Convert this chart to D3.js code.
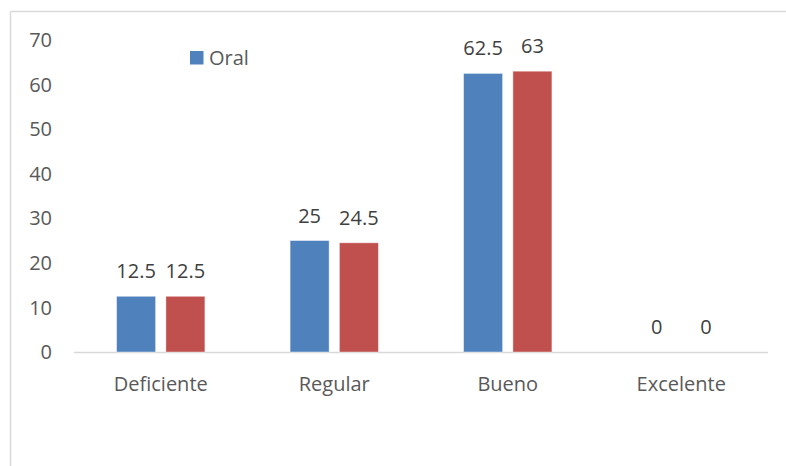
<!DOCTYPE html>
<html>
<head>
<meta charset="utf-8">
<script src="https://cdn.jsdelivr.net/npm/d3@7/dist/d3.min.js"></script>
<style>
  html, body { margin: 0; padding: 0; background: #fff; }
  svg { display: block; }
  text { font-family: "Open Sans", "Noto Sans", sans-serif; fill: #595959; }
</style>
</head>
<body>
<svg id="chart" width="786" height="466"></svg>
<script>
const categories = ["Deficiente", "Regular", "Bueno", "Excelente"];
const seriesNames = ["Oral", "Escrita"];
const seriesOral = [12.5, 25, 62.5, 0];
const seriesSecond = [12.5, 24.5, 63, 0];
const yTicks = [0, 10, 20, 30, 40, 50, 60, 70];
const legendNames = ["Oral"];
const colors = ["#4F81BD", "#C0504D"];

const svg = d3.select("#chart");

// chart border (top and left visible)
svg.append("line").attr("x1", 10.5).attr("x2", 786).attr("y1", 11.5).attr("y2", 11.5)
  .attr("stroke", "#d9d9d9").attr("stroke-width", 1.5);
svg.append("line").attr("x1", 10.5).attr("x2", 10.5).attr("y1", 11.5).attr("y2", 466)
  .attr("stroke", "#d9d9d9").attr("stroke-width", 1.5);

const plot = { left: 74, right: 768, top: 40, bottom: 352 };

const x0 = d3.scaleBand().domain(categories).range([plot.left, plot.right]);
const y = d3.scaleLinear().domain([0, 70]).range([plot.bottom, plot.top]);

const barW = 39, gap = 10.3;
const groupW = 2 * barW + gap;
const inner = d3.scaleOrdinal().domain(seriesNames).range([0, barW + gap]);

// y tick labels
svg.append("g").selectAll("text").data(yTicks).join("text")
  .attr("x", 52).attr("y", d => y(d)).attr("dy", "0.36em")
  .attr("text-anchor", "end").attr("font-size", 20).text(d => d);

// baseline axis
svg.append("line").attr("x1", plot.left).attr("x2", plot.right)
  .attr("y1", y(0) + 0.5).attr("y2", y(0) + 0.5)
  .attr("stroke", "#d9d9d9").attr("stroke-width", 1.5);

// category labels
svg.append("g").selectAll("text").data(categories).join("text")
  .attr("x", d => x0(d) + x0.bandwidth() / 2).attr("y", 391)
  .attr("text-anchor", "middle").attr("font-size", 20).text(d => d);

const data = categories.map((c, i) => ({ cat: c, vals: [
  { s: seriesNames[0], v: seriesOral[i], color: colors[0] },
  { s: seriesNames[1], v: seriesSecond[i], color: colors[1] }
]}));

const groups = svg.append("g").selectAll("g").data(data).join("g")
  .attr("transform", d => `translate(${x0(d.cat) + (x0.bandwidth() - groupW) / 2},0)`);

groups.selectAll("rect").data(d => d.vals).join("rect")
  .attr("x", d => inner(d.s)).attr("width", barW)
  .attr("y", d => y(d.v)).attr("height", d => y(0) - y(d.v))
  .attr("fill", d => d.color).attr("stroke", "#fff").attr("stroke-opacity", 0.5).attr("stroke-width", 0.8);

groups.selectAll("text").data(d => d.vals).join("text")
  .attr("x", d => inner(d.s) + barW / 2).attr("y", d => y(d.v) - 18)
  .attr("text-anchor", "middle").attr("font-size", 20)
  .style("fill", "#404040").text(d => d.v);

// legend
const lg = svg.append("g").attr("transform", "translate(190,51)");
lg.selectAll("rect").data(legendNames).join("rect")
  .attr("x", 0).attr("y", 0).attr("width", 13.5).attr("height", 13.5).attr("fill", colors[0]);
lg.selectAll("text").data(legendNames).join("text")
  .attr("x", 19).attr("y", 14).attr("font-size", 20).text(d => d);
</script>
</body>
</html>
